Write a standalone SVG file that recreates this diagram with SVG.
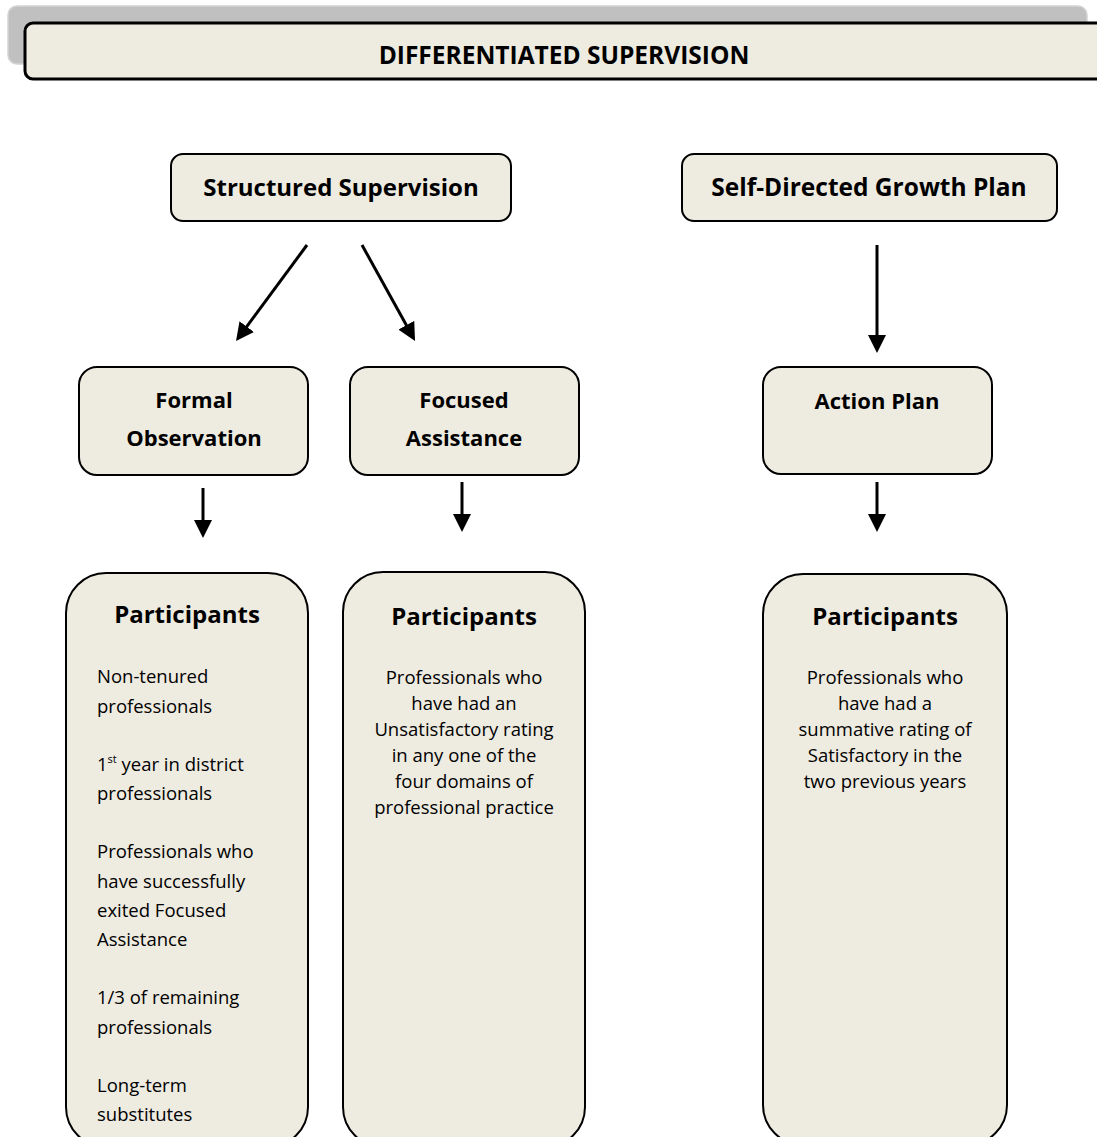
<svg xmlns="http://www.w3.org/2000/svg" width="1097" height="1137" viewBox="0 0 1097 1137">
<style>
.box{fill:#eeebe0;stroke:#000;stroke-width:2}
.t{font-family:"Open Sans","Noto Sans",sans-serif;fill:#000}
.b{font-weight:bold}
.c{text-anchor:middle}
.conn{stroke:#000;stroke-width:3;fill:none}
</style>
<defs>
<marker id="ah" markerWidth="6" markerHeight="6" refX="3" refY="3" orient="auto" markerUnits="strokeWidth">
<path d="M0,0 L6,3 L0,6 Z" fill="#000"/>
</marker>
</defs>
<rect width="1097" height="1137" fill="#fff"/>
<g id="title">
<rect x="8" y="6" width="1079" height="58" rx="9" fill="#c0c0c0" stroke="#d4d4d4" stroke-width="1.5"/>
<rect x="25" y="23" width="1090" height="56" rx="8" fill="#eeebe0" stroke="#000" stroke-width="3"/>
<text class="t b c" x="564" y="64" font-size="24.5">DIFFERENTIATED SUPERVISION</text>
</g>
<g id="structured">
<rect class="box" x="171" y="154" width="340" height="67" rx="12"/>
<text class="t b c" x="341" y="196" font-size="24">Structured Supervision</text>
</g>
<g id="selfdirected">
<rect class="box" x="682" y="154" width="375" height="67" rx="12"/>
<text class="t b c" x="869" y="196" font-size="24.5">Self-Directed Growth Plan</text>
</g>
<g id="formal">
<rect class="box" x="79" y="367" width="229" height="108" rx="18"/>
<text class="t b c" x="194" y="408" font-size="22">Formal</text>
<text class="t b c" x="194" y="446" font-size="22">Observation</text>
</g>
<g id="focused">
<rect class="box" x="350" y="367" width="229" height="108" rx="18"/>
<text class="t b c" x="464" y="408" font-size="22">Focused</text>
<text class="t b c" x="464" y="446" font-size="22">Assistance</text>
</g>
<g id="action">
<rect class="box" x="763" y="367" width="229" height="107" rx="18"/>
<text class="t b c" x="877" y="409" font-size="22">Action Plan</text>
</g>
<g id="participants1">
<rect class="box" x="66" y="573" width="242" height="574" rx="40"/>
<text class="t b c" x="187" y="623" font-size="24">Participants</text>
<g class="t" font-size="18.5">
<text x="97" y="683">Non-tenured</text>
<text x="97" y="713">professionals</text>
<text x="97" y="771">1<tspan font-size="11" dy="-8">st</tspan><tspan dy="8"> year in district</tspan></text>
<text x="97" y="800">professionals</text>
<text x="97" y="858">Professionals who</text>
<text x="97" y="888">have successfully</text>
<text x="97" y="917">exited Focused</text>
<text x="97" y="946">Assistance</text>
<text x="97" y="1004">1/3 of remaining</text>
<text x="97" y="1034">professionals</text>
<text x="97" y="1092">Long-term</text>
<text x="97" y="1121">substitutes</text>
</g>
</g>
<g id="participants2">
<rect class="box" x="343" y="572" width="242" height="575" rx="40"/>
<text class="t b c" x="464" y="625" font-size="24">Participants</text>
<g class="t c" font-size="18.5">
<text x="464" y="684">Professionals who</text>
<text x="464" y="710">have had an</text>
<text x="464" y="736">Unsatisfactory rating</text>
<text x="464" y="762">in any one of the</text>
<text x="464" y="788">four domains of</text>
<text x="464" y="814">professional practice</text>
</g>
</g>
<g id="participants3">
<rect class="box" x="763" y="574" width="244" height="571" rx="40"/>
<text class="t b c" x="885" y="625" font-size="24">Participants</text>
<g class="t c" font-size="18.5">
<text x="885" y="684">Professionals who</text>
<text x="885" y="710">have had a</text>
<text x="885" y="736">summative rating of</text>
<text x="885" y="762">Satisfactory in the</text>
<text x="885" y="788">two previous years</text>
</g>
</g>
<g id="connectors">
<line class="conn" x1="307" y1="245" x2="241.4" y2="333.8" marker-end="url(#ah)"/>
<line class="conn" x1="362" y1="245" x2="410.7" y2="333.1" marker-end="url(#ah)"/>
<line class="conn" x1="877" y1="245" x2="877" y2="344" marker-end="url(#ah)"/>
<line class="conn" x1="203" y1="488" x2="203" y2="529" marker-end="url(#ah)"/>
<line class="conn" x1="462" y1="482" x2="462" y2="523" marker-end="url(#ah)"/>
<line class="conn" x1="877" y1="482" x2="877" y2="523" marker-end="url(#ah)"/>
</g>
</svg>
